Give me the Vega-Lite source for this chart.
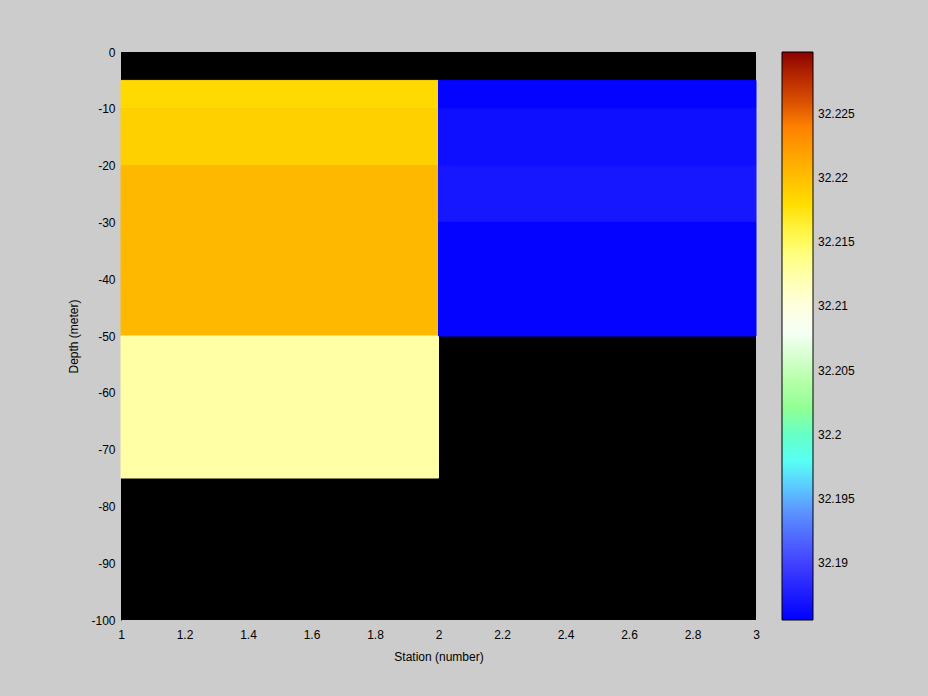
{
  "$schema": "https://vega.github.io/schema/vega-lite/v6.json",
  "autosize": "none",
  "width": 635,
  "height": 568,
  "padding": {"left": 121, "top": 52, "right": 172, "bottom": 76},
  "background": "#cccccc",
  "view": {"fill": "black", "stroke": null},
  "config": {
    "font": "Liberation Sans",
    "axis": {"labelFont": "Liberation Sans", "titleFont": "Liberation Sans", "labelFontSize": 12, "titleFontSize": 12, "titleFontWeight": "normal", "labelColor": "black", "titleColor": "black", "domainColor": "black", "grid": false, "ticks": false, "labelPadding": 6}
  },
  "data": {
    "values": [
      {"s0": 1, "s1": 2, "d0": -5, "d1": -10, "sal": 32.2183},
      {"s0": 1, "s1": 2, "d0": -10, "d1": -20, "sal": 32.2189},
      {"s0": 1, "s1": 2, "d0": -20, "d1": -30, "sal": 32.2205},
      {"s0": 1, "s1": 2, "d0": -30, "d1": -50, "sal": 32.2205},
      {"s0": 1, "s1": 2, "d0": -50, "d1": -75, "sal": 32.2127},
      {"s0": 2, "s1": 3, "d0": -5, "d1": -10, "sal": 32.1858},
      {"s0": 2, "s1": 3, "d0": -10, "d1": -20, "sal": 32.1866},
      {"s0": 2, "s1": 3, "d0": -20, "d1": -30, "sal": 32.1871},
      {"s0": 2, "s1": 3, "d0": -30, "d1": -50, "sal": 32.1858}
    ]
  },
  "mark": {"type": "rect", "strokeWidth": 1, "stroke": {"expr": "scale('color', datum.sal)"}},
  "encoding": {
    "x": {"field": "s0", "type": "quantitative", "scale": {"domain": [1, 3], "nice": false},
      "axis": {"title": "Station (number)", "values": [1, 1.2, 1.4, 1.6, 1.8, 2, 2.2, 2.4, 2.6, 2.8, 3], "labelPadding": 9, "titlePadding": 11, "domain": false, "labelFlush": false,
        "labelExpr": "format(datum.value, '~g')"}},
    "x2": {"field": "s1"},
    "y": {"field": "d0", "type": "quantitative", "scale": {"domain": [-100, 0], "nice": false},
      "axis": {"title": "Depth (meter)", "values": [-100, -90, -80, -70, -60, -50, -40, -30, -20, -10, 0], "titlePadding": 10, "labelFlush": false,
        "labelExpr": "datum.value < 0 ? '-' + abs(datum.value) : '' + datum.value"}},
    "y2": {"field": "d1"},
    "color": {
      "field": "sal", "type": "quantitative",
      "scale": {
        "domain": [32.1856, 32.1905, 32.195, 32.1975, 32.2, 32.2025, 32.2085, 32.213, 32.215, 32.218, 32.2205, 32.224, 32.2255, 32.2275, 32.2298],
        "range": ["#0000ff", "#4848ff", "#60a8ff", "#55ffff", "#66ffc8", "#99ff88", "#ffffff", "#ffffa0", "#ffff60", "#ffdd00", "#ffb800", "#ff8000", "#e05800", "#c03000", "#8b0000"],
        "interpolate": "rgb"
      },
      "legend": {
        "type": "gradient",
        "orient": "none", "legendX": 661, "legendY": 0, "direction": "vertical",
        "gradientLength": 568, "gradientThickness": 31, "gradientStrokeColor": "black", "gradientStrokeWidth": 1,
        "title": null, "values": [32.19, 32.195, 32.2, 32.205, 32.21, 32.215, 32.22, 32.225],
        "labelFontSize": 12, "labelFont": "Liberation Sans", "labelColor": "black", "labelOffset": 5, "labelOverlap": false,
        "labelExpr": "format(datum.value, '~g')"
      }
    }
  }
}
